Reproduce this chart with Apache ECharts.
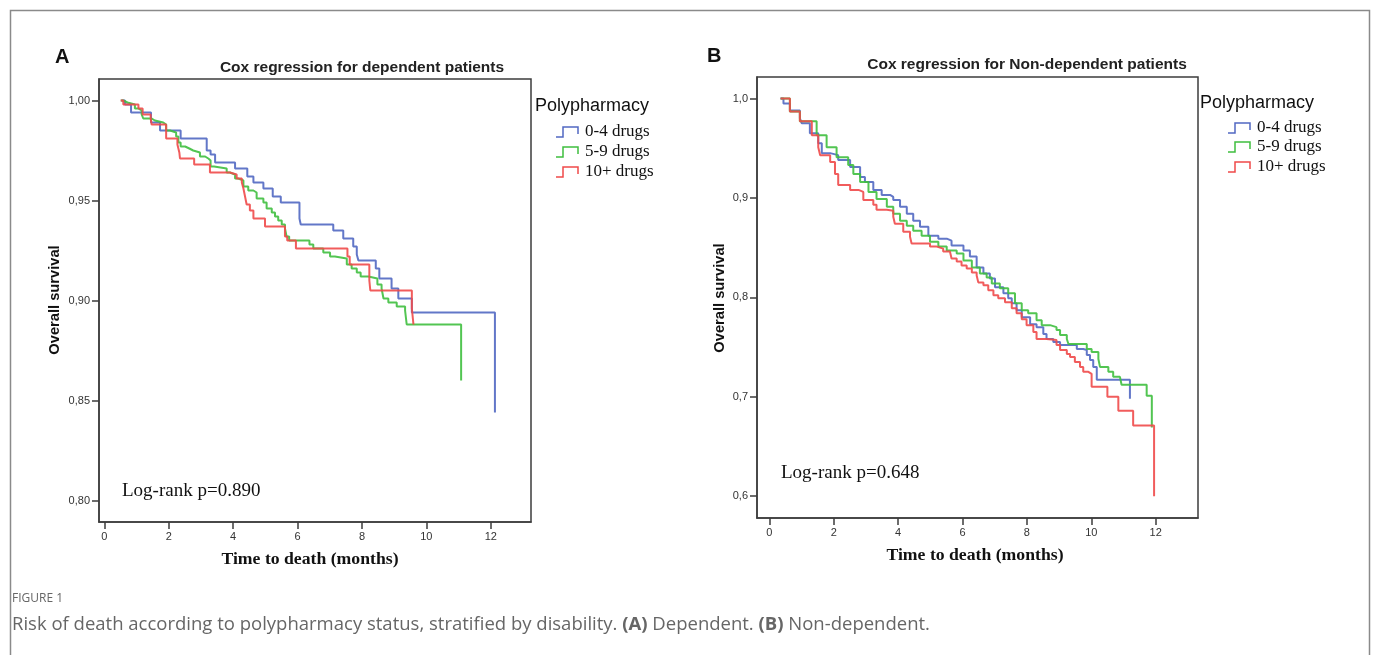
<!DOCTYPE html>
<html>
<head>
<meta charset="utf-8">
<script src="https://cdn.jsdelivr.net/npm/echarts@6/dist/echarts.min.js"></script>
<style>
html,body{margin:0;padding:0;background:#fff;}
#chart{width:1378px;height:655px;}
</style>
</head>
<body>
<div id="chart"></div>
<script>
// ---- DATA ----
const groups = ['0-4 drugs', '5-9 drugs', '10+ drugs'];
const xTicks = [0, 2, 4, 6, 8, 10, 12];
const yTicksA = [0.80, 0.85, 0.90, 0.95, 1.00];
const yTicksB = [0.6, 0.7, 0.8, 0.9, 1.0];
const pValueA = 'Log-rank p=0.890';
const pValueB = 'Log-rank p=0.648';

// Panel A: dependent patients  [time (months), survival]
const depBlue = [[0.54,1.000],[0.64,0.998],[0.83,0.994],[1.45,0.989],[1.73,0.985],[2.37,0.981],[3.18,0.975],[3.30,0.973],[3.44,0.969],[4.06,0.966],[4.44,0.962],[4.63,0.959],[4.94,0.956],[5.23,0.952],[5.48,0.949],[6.06,0.941],[6.10,0.938],[7.11,0.935],[7.42,0.931],[7.73,0.927],[7.84,0.923],[7.89,0.920],[8.43,0.916],[8.54,0.911],[8.92,0.906],[9.13,0.901],[9.55,0.894],[12.13,0.844]];
const depGreen = [[0.51,1.000],[0.59,0.999],[0.72,0.998],[0.95,0.996],[1.06,0.995],[1.16,0.993],[1.21,0.991],[1.47,0.990],[1.57,0.989],[1.83,0.988],[1.92,0.985],[2.04,0.984],[2.23,0.982],[2.30,0.979],[2.37,0.977],[2.51,0.976],[2.64,0.975],[2.76,0.974],[2.97,0.972],[3.13,0.971],[3.23,0.970],[3.30,0.967],[3.41,0.966],[3.80,0.964],[3.90,0.963],[4.06,0.961],[4.16,0.960],[4.32,0.957],[4.47,0.955],[4.63,0.954],[4.73,0.951],[4.94,0.949],[5.04,0.946],[5.20,0.944],[5.30,0.942],[5.40,0.940],[5.51,0.938],[5.61,0.936],[5.66,0.932],[5.74,0.930],[6.37,0.928],[6.49,0.926],[6.80,0.924],[7.01,0.922],[7.16,0.921],[7.53,0.918],[7.68,0.916],[7.84,0.914],[7.96,0.912],[8.20,0.911],[8.48,0.908],[8.61,0.906],[8.67,0.901],[8.82,0.899],[9.08,0.897],[9.34,0.895],[9.39,0.888],[11.08,0.860]];
const depRed = [[0.51,1.000],[0.59,0.998],[1.06,0.996],[1.19,0.993],[1.44,0.991],[1.47,0.988],[1.92,0.981],[2.27,0.978],[2.33,0.974],[2.35,0.971],[2.79,0.968],[3.28,0.964],[3.90,0.963],[4.11,0.961],[4.27,0.959],[4.32,0.956],[4.37,0.952],[4.42,0.948],[4.52,0.945],[4.63,0.941],[4.99,0.937],[5.61,0.932],[5.68,0.930],[5.95,0.926],[7.55,0.922],[7.62,0.918],[8.23,0.910],[8.26,0.905],[9.55,0.896],[9.60,0.888]];

// Panel B: non-dependent patients
const nonBlue = [[0.35,1.000],[0.44,0.995],[0.64,0.988],[0.95,0.980],[1.01,0.975],[1.26,0.965],[1.52,0.955],[1.63,0.945],[1.89,0.943],[2.14,0.938],[2.51,0.931],[2.82,0.921],[2.97,0.916],[3.23,0.908],[3.49,0.903],[3.75,0.901],[3.85,0.898],[4.06,0.891],[4.27,0.884],[4.47,0.877],[4.68,0.871],[4.94,0.862],[5.25,0.859],[5.51,0.857],[5.66,0.852],[6.03,0.847],[6.23,0.841],[6.44,0.830],[6.65,0.824],[6.85,0.819],[7.01,0.810],[7.27,0.804],[7.42,0.799],[7.53,0.794],[7.68,0.787],[7.84,0.780],[8.10,0.773],[8.30,0.770],[8.51,0.763],[8.61,0.758],[8.82,0.755],[9.03,0.752],[9.55,0.748],[9.75,0.747],[9.86,0.742],[9.96,0.737],[10.06,0.730],[10.17,0.717],[11.20,0.698]];
const nonGreen = [[0.35,1.000],[0.64,0.987],[0.95,0.977],[1.47,0.963],[1.78,0.951],[2.09,0.941],[2.45,0.933],[2.61,0.924],[2.82,0.916],[3.08,0.906],[3.33,0.899],[3.65,0.891],[3.85,0.884],[4.06,0.877],[4.27,0.872],[4.47,0.867],[4.73,0.862],[4.99,0.856],[5.25,0.851],[5.51,0.847],[5.82,0.844],[6.03,0.837],[6.29,0.830],[6.54,0.824],[6.75,0.820],[6.91,0.814],[7.16,0.809],[7.42,0.804],[7.63,0.794],[7.84,0.787],[8.04,0.784],[8.30,0.777],[8.46,0.772],[8.72,0.770],[8.92,0.767],[9.03,0.762],[9.24,0.758],[9.29,0.753],[9.86,0.748],[10.01,0.745],[10.22,0.738],[10.27,0.730],[10.53,0.725],[10.68,0.720],[10.89,0.718],[10.94,0.712],[11.72,0.701],[11.88,0.669]];
const nonRed = [[0.35,1.000],[0.64,0.987],[0.95,0.977],[1.32,0.963],[1.52,0.951],[1.58,0.943],[1.89,0.936],[2.04,0.924],[2.14,0.913],[2.51,0.908],[2.77,0.906],[2.92,0.898],[3.23,0.893],[3.33,0.888],[3.65,0.887],[3.85,0.881],[3.90,0.874],[4.16,0.866],[4.37,0.861],[4.42,0.854],[4.99,0.851],[5.20,0.849],[5.40,0.846],[5.61,0.844],[5.66,0.839],[5.82,0.836],[5.97,0.832],[6.13,0.829],[6.29,0.825],[6.44,0.822],[6.49,0.815],[6.65,0.812],[6.80,0.807],[6.96,0.802],[7.11,0.799],[7.32,0.795],[7.53,0.789],[7.68,0.784],[7.84,0.778],[7.99,0.772],[8.20,0.765],[8.30,0.758],[8.61,0.757],[8.92,0.752],[9.03,0.747],[9.24,0.743],[9.34,0.740],[9.49,0.735],[9.65,0.730],[9.75,0.725],[9.91,0.723],[10.01,0.710],[10.50,0.700],[10.84,0.686],[11.30,0.671],[11.95,0.600]];

// ---- STYLE ----
const colors = ['#5168c2', '#3fbf3f', '#f04a4a'];
const frame = '#3d3d3d';
const chart = echarts.init(document.getElementById('chart'), null, {renderer: 'canvas'});

function xAxisCfg(gi, min, max) {
  return {
    type: 'value', gridIndex: gi, min: min, max: max,
    axisLine: {show: true, onZero: false, lineStyle: {color: frame, width: 1.5}},
    axisTick: {show: true, length: 7, customValues: xTicks, lineStyle: {color: frame, width: 1.5}},
    axisLabel: {customValues: xTicks, color: '#333', fontSize: 11, margin: 9, fontFamily: 'Liberation Sans'},
    splitLine: {show: false}
  };
}
function yAxisCfg(gi, min, max, ticks, dec) {
  return {
    type: 'value', gridIndex: gi, min: min, max: max,
    axisLine: {show: true, onZero: false, lineStyle: {color: frame, width: 1.5}},
    axisTick: {show: true, length: 7, customValues: ticks, lineStyle: {color: frame, width: 1.5}},
    axisLabel: {customValues: ticks, color: '#333', fontSize: 11, margin: 9, fontFamily: 'Liberation Sans',
      formatter: v => Number(v).toFixed(dec).replace('.', ',')},
    splitLine: {show: false}
  };
}
function km(name, data, idx, ci) {
  return {
    name: name, type: 'line', step: 'end', data: data,
    xAxisIndex: idx, yAxisIndex: idx, showSymbol: false, symbol: 'none',
    lineStyle: {color: colors[ci], width: 2, opacity: 0.9}, itemStyle: {color: colors[ci]},
    animation: false, silent: true
  };
}
function txt(x, y, text, font, opts) {
  return Object.assign({type: 'text', x: x, y: y, silent: true,
    style: Object.assign({text: text, font: font, fill: '#111', textVerticalAlign: 'middle'}, opts || {})});
}
function legendBlock(x0, y0, ys, textX) {
  const els = [txt(x0, y0, 'Polypharmacy', '18px "Liberation Sans"', {fill: '#111'})];
  groups.forEach((g, i) => {
    const iconX = textX - 29, y = ys[i];
    els.push({type: 'polyline', silent: true,
      shape: {points: [[iconX, y + 5], [iconX + 7, y + 5], [iconX + 7, y - 5], [iconX + 22, y - 5], [iconX + 22, y + 2]]},
      style: {stroke: colors[i], lineWidth: 1.5, fill: null}});
    els.push(txt(textX, y, g, '17px "Liberation Serif"', {fill: '#111'}));
  });
  return els;
}

const graphics = [
  {type: 'polyline', silent: true, shape: {points: [[10.5, 660], [10.5, 10.5], [1369.5, 10.5], [1369.5, 660]]},
    style: {stroke: '#8a8a8a', lineWidth: 1.5, fill: null}},
  txt(55, 57, 'A', 'bold 20px "Liberation Sans"'),
  txt(707, 56, 'B', 'bold 20px "Liberation Sans"'),
  txt(362, 68, 'Cox regression for dependent patients', 'bold 15.5px "Liberation Sans"', {textAlign: 'center', fill: '#222'}),
  txt(1027, 65, 'Cox regression for Non-dependent patients', 'bold 15.5px "Liberation Sans"', {textAlign: 'center', fill: '#222'}),
  txt(122, 491, pValueA, '19px "Liberation Serif"'),
  txt(781, 473, pValueB, '19px "Liberation Serif"'),
  txt(310, 559, 'Time to death (months)', 'bold 17.7px "Liberation Serif"', {textAlign: 'center'}),
  txt(975, 555, 'Time to death (months)', 'bold 17.7px "Liberation Serif"', {textAlign: 'center'}),
  {type: 'text', x: 55, y: 300, rotation: Math.PI / 2, silent: true,
    style: {text: 'Overall survival', font: 'bold 14.7px "Liberation Sans"', fill: '#111', textAlign: 'center', textVerticalAlign: 'middle'}},
  {type: 'text', x: 720, y: 298, rotation: Math.PI / 2, silent: true,
    style: {text: 'Overall survival', font: 'bold 14.7px "Liberation Sans"', fill: '#111', textAlign: 'center', textVerticalAlign: 'middle'}},
  txt(12, 599, 'FIGURE 1', '12px "Open Sans"', {fill: '#666'}),
  {type: 'text', x: 12, y: 625, silent: true,
    style: {text: 'Risk of death according to polypharmacy status, stratified by disability. {b|(A)} Dependent. {b|(B)} Non-dependent.',
      font: '18.5px "Open Sans"', fill: '#666', textVerticalAlign: 'middle',
      rich: {b: {fontWeight: 'bold', fontSize: 18.5, fontFamily: 'Open Sans', fill: '#666'}}}}
].concat(legendBlock(535, 106, [132, 152, 172], 585))
 .concat(legendBlock(1200, 103, [128, 147, 167], 1257));

chart.setOption({
  animation: false,
  backgroundColor: '#fff',
  grid: [
    {left: 99, top: 79, width: 432, height: 443, show: true, borderColor: frame, borderWidth: 1.5, backgroundColor: 'transparent', containLabel: false},
    {left: 757, top: 77, width: 441, height: 441, show: true, borderColor: frame, borderWidth: 1.5, backgroundColor: 'transparent', containLabel: false}
  ],
  xAxis: [xAxisCfg(0, -0.165, 13.25), xAxisCfg(1, -0.382, 13.314)],
  yAxis: [yAxisCfg(0, 0.78925, 1.01075, yTicksA, 2), yAxisCfg(1, 0.578, 1.0216, yTicksB, 1)],
  series: [
    km(groups[0], depBlue, 0, 0), km(groups[1], depGreen, 0, 1), km(groups[2], depRed, 0, 2),
    km(groups[0], nonBlue, 1, 0), km(groups[1], nonGreen, 1, 1), km(groups[2], nonRed, 1, 2)
  ],
  graphic: graphics
});
</script>
</body>
</html>
